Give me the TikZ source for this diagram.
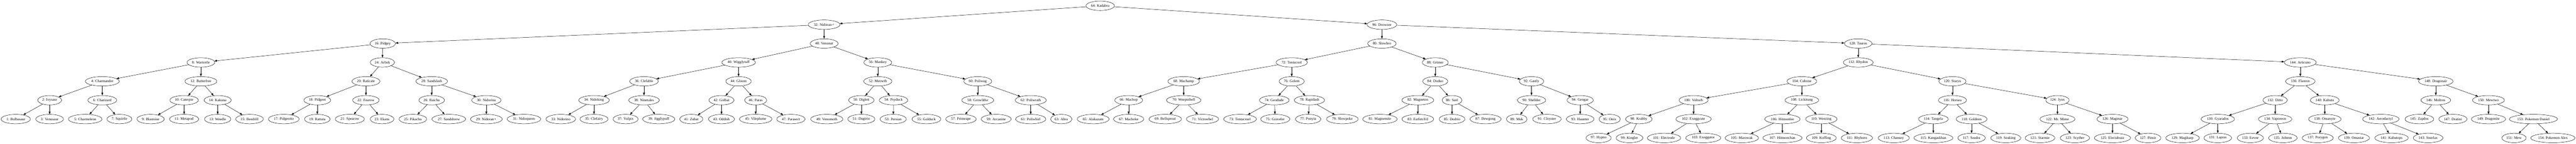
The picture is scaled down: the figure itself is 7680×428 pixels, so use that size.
\documentclass[tikz,border=0pt]{standalone}
\usepackage{fontspec}
\setmainfont{Liberation Serif}
\usetikzlibrary{shapes.geometric,arrows.meta}
\newcommand\pkm[4]{\node[pk] (n#1) at (#2,#3) {#1: #4};}
\begin{document}
\begin{tikzpicture}[x=1pt,y=1pt,
  pk/.style={ellipse,draw=black,line width=0.75pt,inner xsep=2.8pt,inner ysep=2pt,
    minimum height=28pt,minimum width=42pt,font=\fontsize{10.9}{12}\selectfont},
  edge/.style={line width=0.75pt,-{Triangle[length=7.8pt,width=5.5pt]}}]
\useasboundingbox (0,0) rectangle (7680,428);
\def\La{410.8}\def\Lb{354.6}\def\Lc{298.4}\def\Ld{242.2}
\def\Le{186.0}\def\Lf{129.8}\def\Lg{73.6}\def\Lh{17.4}
% level 0
\pkm{64}{3280}{\La}{Kadabra}
% level 1
\pkm{32}{2457}{\Lb}{Nidoran♂}
\pkm{96}{4120}{\Lb}{Drowzee}
% level 2
\pkm{16}{1141}{\Lc}{Pidgey}
\pkm{48}{2457}{\Lc}{Venonat}
\pkm{80}{4120}{\Lc}{Slowbro}
\pkm{128}{5540}{\Lc}{Tauros}
% level 3
\pkm{8}{599}{\Ld}{Wartortle}
\pkm{24}{1140}{\Ld}{Arbok}
\pkm{40}{2202}{\Ld}{Wigglytuff}
\pkm{56}{2617}{\Ld}{Mankey}
\pkm{72}{3851}{\Ld}{Tentacool}
\pkm{88}{4279}{\Ld}{Grimer}
\pkm{112}{5540}{\Ld}{Rhydon}
\pkm{144}{6858}{\Ld}{Articuno}
% level 4
\pkm{4}{305}{\Le}{Charmander}
\pkm{12}{599}{\Le}{Butterfree}
\pkm{20}{1091}{\Le}{Raticate}
\pkm{28}{1287}{\Le}{Sandslash}
\pkm{36}{1920}{\Le}{Clefable}
\pkm{44}{2202}{\Le}{Gloom}
\pkm{52}{2617}{\Le}{Meowth}
\pkm{60}{2915}{\Le}{Poliwag}
\pkm{68}{3529}{\Le}{Machamp}
\pkm{76}{3851}{\Le}{Golem}
\pkm{84}{4279}{\Le}{Doduo}
\pkm{92}{4566}{\Le}{Gastly}
\pkm{104}{5372}{\Le}{Cubone}
\pkm{120}{5821}{\Le}{Staryu}
\pkm{136}{6858}{\Le}{Flareon}
\pkm{148}{7262}{\Le}{Dragonair}
% level 5
\pkm{2}{148}{\Lf}{Ivysaur}
\pkm{6}{305}{\Lf}{Charizard}
\pkm{10}{549}{\Lf}{Caterpie}
\pkm{14}{649}{\Lf}{Kakuna}
\pkm{18}{946}{\Lf}{Pidgeot}
\pkm{22}{1091}{\Lf}{Fearow}
\pkm{26}{1287}{\Lf}{Raichu}
\pkm{30}{1450}{\Lf}{Nidorina}
\pkm{34}{1771}{\Lf}{Nidoking}
\pkm{38}{1920}{\Lf}{Ninetales}
\pkm{42}{2151}{\Lf}{Golbat}
\pkm{46}{2253}{\Lf}{Paras}
\pkm{50}{2568}{\Lf}{Diglett}
\pkm{54}{2664}{\Lf}{Psyduck}
\pkm{58}{2915}{\Lf}{Growlithe}
\pkm{62}{3073}{\Lf}{Poliwrath}
\pkm{66}{3365}{\Lf}{Machop}
\pkm{70}{3529}{\Lf}{Weepinbell}
\pkm{74}{3799}{\Lf}{Geodude}
\pkm{78}{3904}{\Lf}{Rapidash}
\pkm{82}{4227}{\Lf}{Magneton}
\pkm{86}{4329}{\Lf}{Seel}
\pkm{90}{4566}{\Lf}{Shellder}
\pkm{94}{4711}{\Lf}{Gengar}
\pkm{100}{5049}{\Lf}{Voltorb}
\pkm{108}{5372}{\Lf}{Lickitung}
\pkm{116}{5821}{\Lf}{Horsea}
\pkm{124}{6134}{\Lf}{Jynx}
\pkm{132}{6783}{\Lf}{Ditto}
\pkm{140}{6931}{\Lf}{Kabuto}
\pkm{146}{7262}{\Lf}{Moltres}
\pkm{150}{7419}{\Lf}{Mewtwo}
% level 6
\pkm{1}{47}{\Lg}{Bulbasaur}
\pkm{3}{148}{\Lg}{Venusaur}
\pkm{5}{254}{\Lg}{Charmeleon}
\pkm{7}{356}{\Lg}{Squirtle}
\pkm{9}{449}{\Lg}{Blastoise}
\pkm{11}{549}{\Lg}{Metapod}
\pkm{13}{649}{\Lg}{Weedle}
\pkm{15}{744}{\Lg}{Beedrill}
\pkm{17}{846}{\Lg}{Pidgeotto}
\pkm{19}{946}{\Lg}{Rattata}
\pkm{21}{1043}{\Lg}{Spearow}
\pkm{23}{1139}{\Lg}{Ekans}
\pkm{25}{1231}{\Lg}{Pikachu}
\pkm{27}{1338}{\Lg}{Sandshrew}
\pkm{29}{1450}{\Lg}{Nidoran♀}
\pkm{31}{1562}{\Lg}{Nidoqueen}
\pkm{33}{1672}{\Lg}{Nidorino}
\pkm{35}{1771}{\Lg}{Clefairy}
\pkm{37}{1865}{\Lg}{Vulpix}
\pkm{39}{1964}{\Lg}{Jigglypuff}
\pkm{41}{2061}{\Lg}{Zubat}
\pkm{43}{2151}{\Lg}{Oddish}
\pkm{45}{2253}{\Lg}{Vileplume}
\pkm{47}{2358}{\Lg}{Parasect}
\pkm{49}{2465}{\Lg}{Venomoth}
\pkm{51}{2568}{\Lg}{Dugtrio}
\pkm{53}{2663}{\Lg}{Persian}
\pkm{55}{2762}{\Lg}{Golduck}
\pkm{57}{2865}{\Lg}{Primeape}
\pkm{59}{2970}{\Lg}{Arcanine}
\pkm{61}{3073}{\Lg}{Poliwhirl}
\pkm{63}{3164}{\Lg}{Abra}
\pkm{65}{3259}{\Lg}{Alakazam}
\pkm{67}{3365}{\Lg}{Machoke}
\pkm{69}{3474}{\Lg}{Bellsprout}
\pkm{71}{3585}{\Lg}{Victreebel}
\pkm{73}{3697}{\Lg}{Tentacruel}
\pkm{75}{3802}{\Lg}{Graveler}
\pkm{77}{3900}{\Lg}{Ponyta}
\pkm{79}{4002}{\Lg}{Slowpoke}
\pkm{81}{4114}{\Lg}{Magnemite}
\pkm{83}{4227}{\Lg}{Farfetch\textquotesingle d}
\pkm{85}{4329}{\Lg}{Dodrio}
\pkm{87}{4429}{\Lg}{Dewgong}
\pkm{89}{4522}{\Lg}{Muk}
\pkm{91}{4612}{\Lg}{Cloyster}
\pkm{93}{4711}{\Lg}{Haunter}
\pkm{95}{4799}{\Lg}{Onix}
\pkm{98}{4886}{\Lg}{Krabby}
\pkm{102}{5049}{\Lg}{Exeggcute}
\pkm{106}{5314}{\Lg}{Hitmonlee}
\pkm{110}{5430}{\Lg}{Weezing}
\pkm{114}{5764}{\Lg}{Tangela}
\pkm{118}{5878}{\Lg}{Goldeen}
\pkm{122}{6134}{\Lg}{Mr. Mime}
\pkm{126}{6298}{\Lg}{Magmar}
\pkm{130}{6612}{\Lg}{Gyarados}
\pkm{134}{6783}{\Lg}{Vaporeon}
\pkm{138}{6931}{\Lg}{Omanyte}
\pkm{142}{7098}{\Lg}{Aerodactyl}
\pkm{145}{7213}{\Lg}{Zapdos}
\pkm{147}{7313}{\Lg}{Dratini}
\pkm{149}{7419}{\Lg}{Dragonite}
\pkm{153}{7553}{\Lg}{Pokemon Daniel}
% level 7
\pkm{97}{4766}{\Lh}{Hypno}
\pkm{99}{4858}{\Lh}{Kingler}
\pkm{101}{4961}{\Lh}{Electrode}
\pkm{103}{5078}{\Lh}{Exeggutor}
\pkm{105}{5193}{\Lh}{Marowak}
\pkm{107}{5314}{\Lh}{Hitmonchan}
\pkm{109}{5430}{\Lh}{Koffing}
\pkm{111}{5536}{\Lh}{Rhyhorn}
\pkm{113}{5646}{\Lh}{Chansey}
\pkm{115}{5764}{\Lh}{Kangaskhan}
\pkm{117}{5878}{\Lh}{Seadra}
\pkm{119}{5980}{\Lh}{Seaking}
\pkm{121}{6082}{\Lh}{Starmie}
\pkm{123}{6186}{\Lh}{Scyther}
\pkm{125}{6298}{\Lh}{Electabuzz}
\pkm{127}{6404}{\Lh}{Pinsir}
\pkm{129}{6507}{\Lh}{Magikarp}
\pkm{131}{6612}{\Lh}{Lapras}
\pkm{133}{6709}{\Lh}{Eevee}
\pkm{135}{6806}{\Lh}{Jolteon}
\pkm{137}{6910}{\Lh}{Porygon}
\pkm{139}{7018}{\Lh}{Omastar}
\pkm{141}{7130}{\Lh}{Kabutops}
\pkm{143}{7239}{\Lh}{Snorlax}
\pkm{151}{7495}{\Lh}{Mew}
\pkm{154}{7611}{\Lh}{Pokemon Alex}
% edges
\foreach \a/\b in {64/32,64/96,32/16,32/48,96/80,96/128,
 16/8,16/24,48/40,48/56,80/72,80/88,128/112,128/144,
 8/4,8/12,24/20,24/28,40/36,40/44,56/52,56/60,72/68,72/76,88/84,88/92,
 112/104,112/120,144/136,144/148,
 4/2,4/6,12/10,12/14,20/18,20/22,28/26,28/30,36/34,36/38,44/42,44/46,
 52/50,52/54,60/58,60/62,68/66,68/70,76/74,76/78,84/82,84/86,92/90,92/94,
 104/100,104/108,120/116,120/124,136/132,136/140,148/146,148/150,
 2/1,2/3,6/5,6/7,10/9,10/11,14/13,14/15,18/17,18/19,22/21,22/23,
 26/25,26/27,30/29,30/31,34/33,34/35,38/37,38/39,42/41,42/43,46/45,46/47,
 50/49,50/51,54/53,54/55,58/57,58/59,62/61,62/63,66/65,66/67,70/69,70/71,
 74/73,74/75,78/77,78/79,82/81,82/83,86/85,86/87,90/89,90/91,94/93,94/95,
 100/98,100/102,108/106,108/110,116/114,116/118,124/122,124/126,
 132/130,132/134,140/138,140/142,146/145,146/147,150/149,150/153,
 98/97,98/99,102/101,102/103,106/105,106/107,110/109,110/111,
 114/113,114/115,118/117,118/119,122/121,122/123,126/125,126/127,
 130/129,130/131,134/133,134/135,138/137,138/139,142/141,142/143,
 153/151,153/154}
  \draw[edge] (n\a) -- (n\b);
\end{tikzpicture}
\end{document}
